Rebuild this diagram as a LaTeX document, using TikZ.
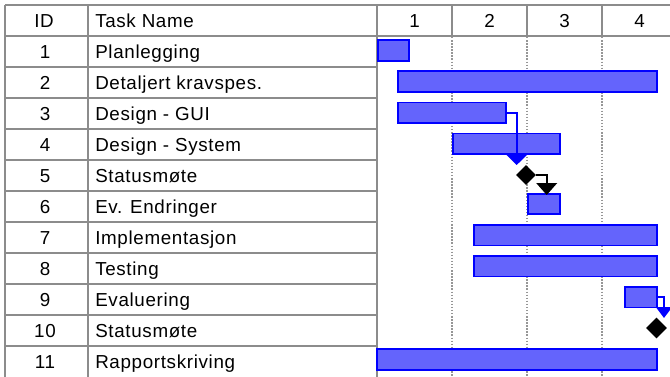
\documentclass[tikz,border=0pt]{standalone}
\usepackage{fontspec}
\setmainfont{Liberation Sans}[LetterSpace=3.5]
\usetikzlibrary{shapes.geometric,arrows.meta}

\definecolor{gridgray}{RGB}{140,140,140}
\definecolor{dotgray}{RGB}{150,150,150}
\definecolor{barfill}{RGB}{100,100,252}
\definecolor{barline}{RGB}{0,0,255}

% a task bar given by its corner pixels: name, x1, y1, x2, y2
\newcommand\ganttbar[5]{%
  \node[bar,anchor=north west,minimum width={(#4-#2)*0.75pt},
        minimum height={(#5-#3)*0.75pt}] (#1) at (#2,#3) {};}

\begin{document}
\begin{tikzpicture}[x=0.75pt,y=-0.75pt,
  grid/.style={draw=gridgray,line width=1.2pt},
  dotline/.style={draw=dotgray,line width=1.1pt,dash pattern=on 1.1pt off 1.2pt},
  cell/.style={inner sep=0pt,anchor=base,font=\fontsize{14.1}{16}\selectfont},
  namecell/.style={cell,anchor=base west},
  bar/.style={draw=barline,fill=barfill,line width=1.3pt,inner sep=0pt,outer sep=0pt},
  milestone/.style={diamond,fill=black,inner sep=0pt,minimum width=#1,minimum height=#1},
  link/.style={draw=barline,line width=1.4pt,
    -{Triangle[length=7.5pt,width=15pt]}},
  mslink/.style={draw=black,line width=1.4pt,
    -{Triangle[length=9pt,width=15.5pt]}}]

\useasboundingbox[fill=white] (0,0) rectangle (670,376);
\begin{scope}
\clip (0,0) rectangle (670,376);

% table frame and header
\draw[grid] (5,5) -- (670,5);
\draw[grid] (5,36) -- (670,36);
\draw[grid] (5,5) -- (5,380);
\draw[grid] (88,5) -- (88,380);
\draw[grid] (377,5) -- (377,380);
\foreach \x in {452,527,602} {
  \draw[grid] (\x,5) -- (\x,36);
  \draw[dotline] (\x,37) -- (\x,380);
}
\foreach \i in {1,...,10}
  \draw[grid] (5,36+31*\i) -- (377,36+31*\i);

% header texts
\node[cell] (hid) at (44,27.3) {ID};
\node[namecell] (hname) at (95,27.3) {Task Name};
\foreach \w [count=\k] in {1,2,3,4}
  \node[cell] (hw\k) at (377+75*\k-37.5,27.3) {\w};

% task rows
\foreach \t [count=\i] in {Planlegging,Detaljert kravspes.,Design - GUI,
    Design - System,Statusmøte,Ev. Endringer,Implementasjon,Testing,
    Evaluering,Statusmøte,Rapportskriving} {
  \node[cell] (id\i) at (45,36+31*\i-15.5+6.7) {\i};
  \node[namecell] (tn\i) at (95,36+31*\i-15.5+6.7) {\t};
}

% bars
\ganttbar{b1}{378}{40}{409}{61}
\ganttbar{b2}{398}{71}{657}{92}
\ganttbar{b3}{398}{102.5}{506}{123}
\ganttbar{b4}{452.7}{133.5}{560}{154}
\ganttbar{b6}{528}{194}{560}{214}
\ganttbar{b7}{474}{225}{657}{245.5}
\ganttbar{b8}{474}{256}{657}{276.5}
\ganttbar{b9}{625}{287}{657}{307.5}
\ganttbar{b11}{377}{349}{657}{370}

% milestones
\node[milestone=15pt] (m5) at (526,175) {};
\node[milestone=15.75pt] (m10) at (656.5,328) {};

% dependency links
\coordinate (t5) at (516.7,165);
\coordinate (t6) at (546.7,195);
\coordinate (t10) at (664,318);
\draw[link] (b3.east) -| (t5);
\draw[mslink] (m5.east) -| (t6);
\draw[link,-{Triangle[length=8.25pt,width=12pt]}] (b9.east) -| (t10);
\end{scope}
\end{tikzpicture}
\end{document}
